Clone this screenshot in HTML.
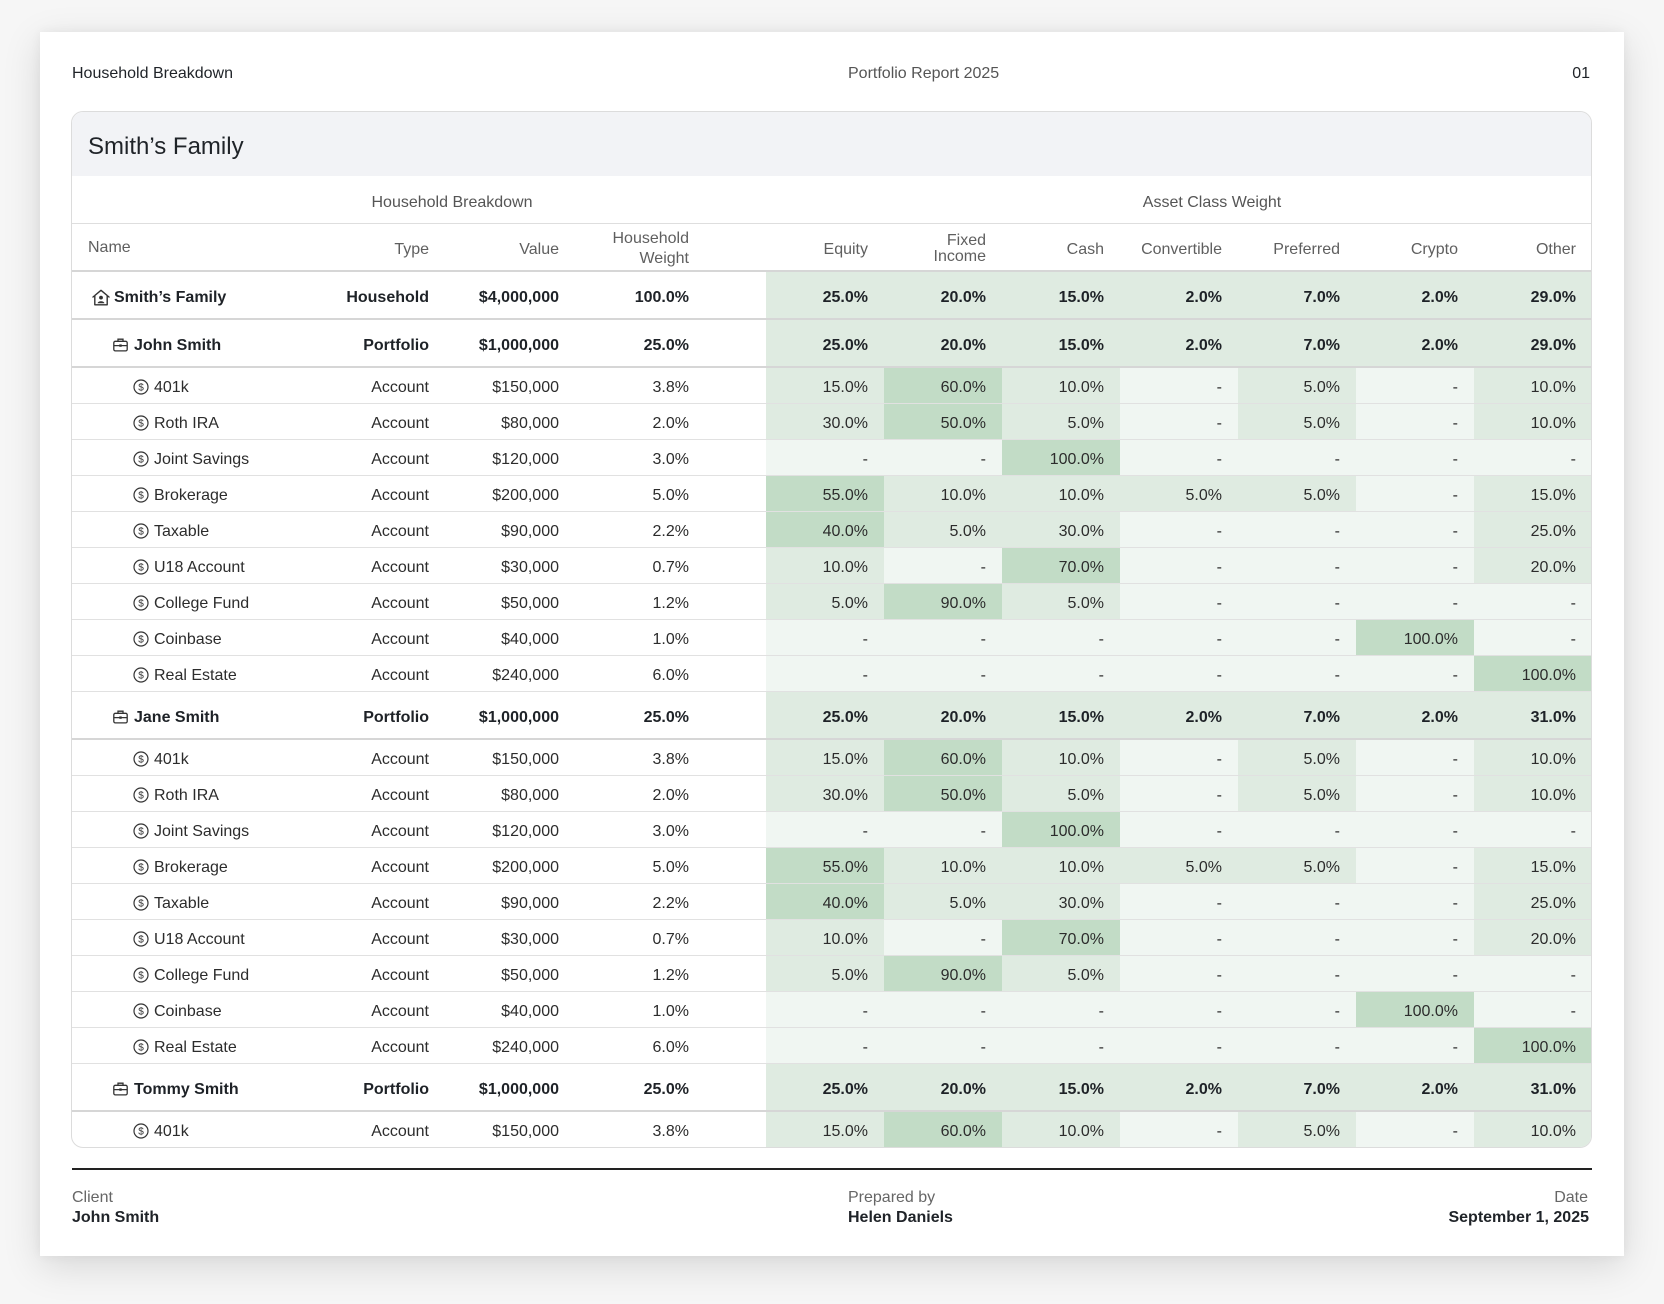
<!DOCTYPE html>
<html><head><meta charset="utf-8">
<style>
*{margin:0;padding:0;box-sizing:border-box}
html,body{width:1664px;height:1304px;overflow:hidden}
body{background:#f6f6f6;font-family:"Liberation Sans",Arial,sans-serif;color:#222;position:relative}
.page{position:absolute;left:40px;top:32px;width:1584px;height:1224px;background:#fff;box-shadow:0 10px 36px rgba(0,0,0,0.13),0 0 10px rgba(0,0,0,0.05)}
.abs{position:absolute;white-space:nowrap;font-size:16px}
.tbl{position:absolute;left:71px;top:111px;width:1521px;height:1037px;border:1px solid #dcdcdc;border-radius:12px;overflow:hidden;background:#fff}
.band{height:64px;background:#f2f3f6;position:relative}
.band .t{position:absolute;left:16px;top:3px;line-height:64px;font-size:24px;color:#1f2328}
.grp{height:48px;border-bottom:1px solid #dedede;position:relative;color:#555;font-size:16px}
.grp span{position:absolute;top:3px;line-height:47px;transform:translateX(-50%);white-space:nowrap}
.hdr{height:48px;border-bottom:2px solid #d6d6d6;position:relative;color:#5f5f5f;font-size:16px}
.hdr .c{line-height:46px;top:3px}
.row{position:relative;font-size:16px}
.acct{height:36px;border-bottom:1px solid #e1e1e1;color:#2c2c2c}
.acct.last{border-bottom:none;height:35px}
.sum{height:48px;border-bottom:2px solid #d6d6d6;color:#1e2227;font-weight:bold}
.c{position:absolute;top:0;height:100%;text-align:right;white-space:nowrap}
.acct .c{line-height:39px;height:35px}
.acct .nm{line-height:35px;height:35px;top:2px}
.sum .c{line-height:51px;height:46px}
.sum .nm{line-height:48px;height:48px;top:2px}
.ty{left:260px;width:97px}
.va{left:380px;width:107px}
.hw{left:510px;width:107px}
.g{width:118px;padding-right:16px}
.e1{left:694px}.e2{left:812px}.e3{left:930px}.e4{left:1048px}.e5{left:1166px}.e6{left:1284px}.e7{left:1402px}
.p{background:#f0f6f2}.l{background:#dfebe1}.d{background:#c2dcc6}
.nm{position:absolute;top:0;white-space:nowrap;display:flex;align-items:center}
.nm svg{margin-right:4px;flex:none;position:relative;top:-1px}
.n0{left:20px}.n1{left:41px}.n2{left:61px}
.n1 svg{margin-right:6px}
.n2 svg{margin-right:5px}
</style></head><body>
<div class="page"></div>

<div class="abs" style="left:72px;top:64px;line-height:20px;color:#1f2328">Household Breakdown</div>
<div class="abs" style="left:848px;top:64px;line-height:20px;color:#555">Portfolio Report 2025</div>
<div class="abs" style="right:74px;top:64px;line-height:20px;color:#1f2328">01</div>

<div class="tbl">
  <div class="band"><div class="t">Smith’s Family</div></div>
  <div class="grp"><span style="left:380px">Household Breakdown</span><span style="left:1140px">Asset Class Weight</span></div>
  <div class="hdr">
    <div class="c" style="left:16px;text-align:left;top:1px">Name</div>
    <div class="c ty">Type</div>
    <div class="c va">Value</div>
    <div class="c hw" style="line-height:20px;top:5px;height:auto">Household<br>Weight</div>
    <div class="c g e1">Equity</div>
    <div class="c g e2" style="line-height:16px;top:9px;height:auto">Fixed<br>Income</div>
    <div class="c g e3">Cash</div>
    <div class="c g e4">Convertible</div>
    <div class="c g e5">Preferred</div>
    <div class="c g e6">Crypto</div>
    <div class="c g e7">Other</div>
  </div>

  <!-- Smith's Family -->
  <div class="row sum">
    <div class="nm n0"><svg width="18" height="17" viewBox="0 0 18 17"><path d="M1 8 L9 1.3 L17 8 M2.8 6.6 V15.8 H15.2 V6.6" fill="none" stroke="#333" stroke-width="1.4" stroke-linejoin="round" stroke-linecap="round"/><circle cx="9" cy="8.6" r="1.9" fill="#333"/><path d="M5.6 14.2 C6 11.6 12 11.6 12.4 14.2 Z" fill="#333"/></svg>Smith’s Family</div>
    <div class="c ty">Household</div><div class="c va">$4,000,000</div><div class="c hw">100.0%</div>
    <div class="c g e1 l">25.0%</div><div class="c g e2 l">20.0%</div><div class="c g e3 l">15.0%</div><div class="c g e4 l">2.0%</div><div class="c g e5 l">7.0%</div><div class="c g e6 l">2.0%</div><div class="c g e7 l">29.0%</div>
  </div>

  <!-- John Smith -->
  <div class="row sum">
    <div class="nm n1"><svg width="15" height="14" viewBox="0 0 15 14"><rect x="0.8" y="3.3" width="13.4" height="9.6" rx="1.5" fill="none" stroke="#333" stroke-width="1.3"/><path d="M5 3.3 V1.2 H10 V3.3 M0.8 7.6 H14.2" fill="none" stroke="#333" stroke-width="1.3"/><rect x="6.3" y="6.4" width="2.4" height="2.4" fill="#333"/></svg>John Smith</div>
    <div class="c ty">Portfolio</div><div class="c va">$1,000,000</div><div class="c hw">25.0%</div>
    <div class="c g e1 l">25.0%</div><div class="c g e2 l">20.0%</div><div class="c g e3 l">15.0%</div><div class="c g e4 l">2.0%</div><div class="c g e5 l">7.0%</div><div class="c g e6 l">2.0%</div><div class="c g e7 l">29.0%</div>
  </div>

  <div class="row acct"><div class="nm n2"><svg width="16" height="16" viewBox="0 0 16 16"><circle cx="8" cy="8" r="7" fill="none" stroke="#333" stroke-width="1.2"/><text x="8" y="11.6" font-size="10" text-anchor="middle" fill="#333" font-family="Liberation Sans, sans-serif">$</text></svg>401k</div>
    <div class="c ty">Account</div><div class="c va">$150,000</div><div class="c hw">3.8%</div>
    <div class="c g e1 l">15.0%</div><div class="c g e2 d">60.0%</div><div class="c g e3 l">10.0%</div><div class="c g e4 p">-</div><div class="c g e5 l">5.0%</div><div class="c g e6 p">-</div><div class="c g e7 l">10.0%</div></div>
  <div class="row acct"><div class="nm n2"><svg width="16" height="16" viewBox="0 0 16 16"><circle cx="8" cy="8" r="7" fill="none" stroke="#333" stroke-width="1.2"/><text x="8" y="11.6" font-size="10" text-anchor="middle" fill="#333" font-family="Liberation Sans, sans-serif">$</text></svg>Roth IRA</div>
    <div class="c ty">Account</div><div class="c va">$80,000</div><div class="c hw">2.0%</div>
    <div class="c g e1 l">30.0%</div><div class="c g e2 d">50.0%</div><div class="c g e3 l">5.0%</div><div class="c g e4 p">-</div><div class="c g e5 l">5.0%</div><div class="c g e6 p">-</div><div class="c g e7 l">10.0%</div></div>
  <div class="row acct"><div class="nm n2"><svg width="16" height="16" viewBox="0 0 16 16"><circle cx="8" cy="8" r="7" fill="none" stroke="#333" stroke-width="1.2"/><text x="8" y="11.6" font-size="10" text-anchor="middle" fill="#333" font-family="Liberation Sans, sans-serif">$</text></svg>Joint Savings</div>
    <div class="c ty">Account</div><div class="c va">$120,000</div><div class="c hw">3.0%</div>
    <div class="c g e1 p">-</div><div class="c g e2 p">-</div><div class="c g e3 d">100.0%</div><div class="c g e4 p">-</div><div class="c g e5 p">-</div><div class="c g e6 p">-</div><div class="c g e7 p">-</div></div>
  <div class="row acct"><div class="nm n2"><svg width="16" height="16" viewBox="0 0 16 16"><circle cx="8" cy="8" r="7" fill="none" stroke="#333" stroke-width="1.2"/><text x="8" y="11.6" font-size="10" text-anchor="middle" fill="#333" font-family="Liberation Sans, sans-serif">$</text></svg>Brokerage</div>
    <div class="c ty">Account</div><div class="c va">$200,000</div><div class="c hw">5.0%</div>
    <div class="c g e1 d">55.0%</div><div class="c g e2 l">10.0%</div><div class="c g e3 l">10.0%</div><div class="c g e4 l">5.0%</div><div class="c g e5 l">5.0%</div><div class="c g e6 p">-</div><div class="c g e7 l">15.0%</div></div>
  <div class="row acct"><div class="nm n2"><svg width="16" height="16" viewBox="0 0 16 16"><circle cx="8" cy="8" r="7" fill="none" stroke="#333" stroke-width="1.2"/><text x="8" y="11.6" font-size="10" text-anchor="middle" fill="#333" font-family="Liberation Sans, sans-serif">$</text></svg>Taxable</div>
    <div class="c ty">Account</div><div class="c va">$90,000</div><div class="c hw">2.2%</div>
    <div class="c g e1 d">40.0%</div><div class="c g e2 l">5.0%</div><div class="c g e3 l">30.0%</div><div class="c g e4 p">-</div><div class="c g e5 p">-</div><div class="c g e6 p">-</div><div class="c g e7 l">25.0%</div></div>
  <div class="row acct"><div class="nm n2"><svg width="16" height="16" viewBox="0 0 16 16"><circle cx="8" cy="8" r="7" fill="none" stroke="#333" stroke-width="1.2"/><text x="8" y="11.6" font-size="10" text-anchor="middle" fill="#333" font-family="Liberation Sans, sans-serif">$</text></svg>U18 Account</div>
    <div class="c ty">Account</div><div class="c va">$30,000</div><div class="c hw">0.7%</div>
    <div class="c g e1 l">10.0%</div><div class="c g e2 p">-</div><div class="c g e3 d">70.0%</div><div class="c g e4 p">-</div><div class="c g e5 p">-</div><div class="c g e6 p">-</div><div class="c g e7 l">20.0%</div></div>
  <div class="row acct"><div class="nm n2"><svg width="16" height="16" viewBox="0 0 16 16"><circle cx="8" cy="8" r="7" fill="none" stroke="#333" stroke-width="1.2"/><text x="8" y="11.6" font-size="10" text-anchor="middle" fill="#333" font-family="Liberation Sans, sans-serif">$</text></svg>College Fund</div>
    <div class="c ty">Account</div><div class="c va">$50,000</div><div class="c hw">1.2%</div>
    <div class="c g e1 l">5.0%</div><div class="c g e2 d">90.0%</div><div class="c g e3 l">5.0%</div><div class="c g e4 p">-</div><div class="c g e5 p">-</div><div class="c g e6 p">-</div><div class="c g e7 p">-</div></div>
  <div class="row acct"><div class="nm n2"><svg width="16" height="16" viewBox="0 0 16 16"><circle cx="8" cy="8" r="7" fill="none" stroke="#333" stroke-width="1.2"/><text x="8" y="11.6" font-size="10" text-anchor="middle" fill="#333" font-family="Liberation Sans, sans-serif">$</text></svg>Coinbase</div>
    <div class="c ty">Account</div><div class="c va">$40,000</div><div class="c hw">1.0%</div>
    <div class="c g e1 p">-</div><div class="c g e2 p">-</div><div class="c g e3 p">-</div><div class="c g e4 p">-</div><div class="c g e5 p">-</div><div class="c g e6 d">100.0%</div><div class="c g e7 p">-</div></div>
  <div class="row acct"><div class="nm n2"><svg width="16" height="16" viewBox="0 0 16 16"><circle cx="8" cy="8" r="7" fill="none" stroke="#333" stroke-width="1.2"/><text x="8" y="11.6" font-size="10" text-anchor="middle" fill="#333" font-family="Liberation Sans, sans-serif">$</text></svg>Real Estate</div>
    <div class="c ty">Account</div><div class="c va">$240,000</div><div class="c hw">6.0%</div>
    <div class="c g e1 p">-</div><div class="c g e2 p">-</div><div class="c g e3 p">-</div><div class="c g e4 p">-</div><div class="c g e5 p">-</div><div class="c g e6 p">-</div><div class="c g e7 d">100.0%</div></div>

  <!-- Jane Smith -->
  <div class="row sum">
    <div class="nm n1"><svg width="15" height="14" viewBox="0 0 15 14"><rect x="0.8" y="3.3" width="13.4" height="9.6" rx="1.5" fill="none" stroke="#333" stroke-width="1.3"/><path d="M5 3.3 V1.2 H10 V3.3 M0.8 7.6 H14.2" fill="none" stroke="#333" stroke-width="1.3"/><rect x="6.3" y="6.4" width="2.4" height="2.4" fill="#333"/></svg>Jane Smith</div>
    <div class="c ty">Portfolio</div><div class="c va">$1,000,000</div><div class="c hw">25.0%</div>
    <div class="c g e1 l">25.0%</div><div class="c g e2 l">20.0%</div><div class="c g e3 l">15.0%</div><div class="c g e4 l">2.0%</div><div class="c g e5 l">7.0%</div><div class="c g e6 l">2.0%</div><div class="c g e7 l">31.0%</div>
  </div>

  <div class="row acct"><div class="nm n2"><svg width="16" height="16" viewBox="0 0 16 16"><circle cx="8" cy="8" r="7" fill="none" stroke="#333" stroke-width="1.2"/><text x="8" y="11.6" font-size="10" text-anchor="middle" fill="#333" font-family="Liberation Sans, sans-serif">$</text></svg>401k</div>
    <div class="c ty">Account</div><div class="c va">$150,000</div><div class="c hw">3.8%</div>
    <div class="c g e1 l">15.0%</div><div class="c g e2 d">60.0%</div><div class="c g e3 l">10.0%</div><div class="c g e4 p">-</div><div class="c g e5 l">5.0%</div><div class="c g e6 p">-</div><div class="c g e7 l">10.0%</div></div>
  <div class="row acct"><div class="nm n2"><svg width="16" height="16" viewBox="0 0 16 16"><circle cx="8" cy="8" r="7" fill="none" stroke="#333" stroke-width="1.2"/><text x="8" y="11.6" font-size="10" text-anchor="middle" fill="#333" font-family="Liberation Sans, sans-serif">$</text></svg>Roth IRA</div>
    <div class="c ty">Account</div><div class="c va">$80,000</div><div class="c hw">2.0%</div>
    <div class="c g e1 l">30.0%</div><div class="c g e2 d">50.0%</div><div class="c g e3 l">5.0%</div><div class="c g e4 p">-</div><div class="c g e5 l">5.0%</div><div class="c g e6 p">-</div><div class="c g e7 l">10.0%</div></div>
  <div class="row acct"><div class="nm n2"><svg width="16" height="16" viewBox="0 0 16 16"><circle cx="8" cy="8" r="7" fill="none" stroke="#333" stroke-width="1.2"/><text x="8" y="11.6" font-size="10" text-anchor="middle" fill="#333" font-family="Liberation Sans, sans-serif">$</text></svg>Joint Savings</div>
    <div class="c ty">Account</div><div class="c va">$120,000</div><div class="c hw">3.0%</div>
    <div class="c g e1 p">-</div><div class="c g e2 p">-</div><div class="c g e3 d">100.0%</div><div class="c g e4 p">-</div><div class="c g e5 p">-</div><div class="c g e6 p">-</div><div class="c g e7 p">-</div></div>
  <div class="row acct"><div class="nm n2"><svg width="16" height="16" viewBox="0 0 16 16"><circle cx="8" cy="8" r="7" fill="none" stroke="#333" stroke-width="1.2"/><text x="8" y="11.6" font-size="10" text-anchor="middle" fill="#333" font-family="Liberation Sans, sans-serif">$</text></svg>Brokerage</div>
    <div class="c ty">Account</div><div class="c va">$200,000</div><div class="c hw">5.0%</div>
    <div class="c g e1 d">55.0%</div><div class="c g e2 l">10.0%</div><div class="c g e3 l">10.0%</div><div class="c g e4 l">5.0%</div><div class="c g e5 l">5.0%</div><div class="c g e6 p">-</div><div class="c g e7 l">15.0%</div></div>
  <div class="row acct"><div class="nm n2"><svg width="16" height="16" viewBox="0 0 16 16"><circle cx="8" cy="8" r="7" fill="none" stroke="#333" stroke-width="1.2"/><text x="8" y="11.6" font-size="10" text-anchor="middle" fill="#333" font-family="Liberation Sans, sans-serif">$</text></svg>Taxable</div>
    <div class="c ty">Account</div><div class="c va">$90,000</div><div class="c hw">2.2%</div>
    <div class="c g e1 d">40.0%</div><div class="c g e2 l">5.0%</div><div class="c g e3 l">30.0%</div><div class="c g e4 p">-</div><div class="c g e5 p">-</div><div class="c g e6 p">-</div><div class="c g e7 l">25.0%</div></div>
  <div class="row acct"><div class="nm n2"><svg width="16" height="16" viewBox="0 0 16 16"><circle cx="8" cy="8" r="7" fill="none" stroke="#333" stroke-width="1.2"/><text x="8" y="11.6" font-size="10" text-anchor="middle" fill="#333" font-family="Liberation Sans, sans-serif">$</text></svg>U18 Account</div>
    <div class="c ty">Account</div><div class="c va">$30,000</div><div class="c hw">0.7%</div>
    <div class="c g e1 l">10.0%</div><div class="c g e2 p">-</div><div class="c g e3 d">70.0%</div><div class="c g e4 p">-</div><div class="c g e5 p">-</div><div class="c g e6 p">-</div><div class="c g e7 l">20.0%</div></div>
  <div class="row acct"><div class="nm n2"><svg width="16" height="16" viewBox="0 0 16 16"><circle cx="8" cy="8" r="7" fill="none" stroke="#333" stroke-width="1.2"/><text x="8" y="11.6" font-size="10" text-anchor="middle" fill="#333" font-family="Liberation Sans, sans-serif">$</text></svg>College Fund</div>
    <div class="c ty">Account</div><div class="c va">$50,000</div><div class="c hw">1.2%</div>
    <div class="c g e1 l">5.0%</div><div class="c g e2 d">90.0%</div><div class="c g e3 l">5.0%</div><div class="c g e4 p">-</div><div class="c g e5 p">-</div><div class="c g e6 p">-</div><div class="c g e7 p">-</div></div>
  <div class="row acct"><div class="nm n2"><svg width="16" height="16" viewBox="0 0 16 16"><circle cx="8" cy="8" r="7" fill="none" stroke="#333" stroke-width="1.2"/><text x="8" y="11.6" font-size="10" text-anchor="middle" fill="#333" font-family="Liberation Sans, sans-serif">$</text></svg>Coinbase</div>
    <div class="c ty">Account</div><div class="c va">$40,000</div><div class="c hw">1.0%</div>
    <div class="c g e1 p">-</div><div class="c g e2 p">-</div><div class="c g e3 p">-</div><div class="c g e4 p">-</div><div class="c g e5 p">-</div><div class="c g e6 d">100.0%</div><div class="c g e7 p">-</div></div>
  <div class="row acct"><div class="nm n2"><svg width="16" height="16" viewBox="0 0 16 16"><circle cx="8" cy="8" r="7" fill="none" stroke="#333" stroke-width="1.2"/><text x="8" y="11.6" font-size="10" text-anchor="middle" fill="#333" font-family="Liberation Sans, sans-serif">$</text></svg>Real Estate</div>
    <div class="c ty">Account</div><div class="c va">$240,000</div><div class="c hw">6.0%</div>
    <div class="c g e1 p">-</div><div class="c g e2 p">-</div><div class="c g e3 p">-</div><div class="c g e4 p">-</div><div class="c g e5 p">-</div><div class="c g e6 p">-</div><div class="c g e7 d">100.0%</div></div>

  <!-- Tommy Smith -->
  <div class="row sum">
    <div class="nm n1"><svg width="15" height="14" viewBox="0 0 15 14"><rect x="0.8" y="3.3" width="13.4" height="9.6" rx="1.5" fill="none" stroke="#333" stroke-width="1.3"/><path d="M5 3.3 V1.2 H10 V3.3 M0.8 7.6 H14.2" fill="none" stroke="#333" stroke-width="1.3"/><rect x="6.3" y="6.4" width="2.4" height="2.4" fill="#333"/></svg>Tommy Smith</div>
    <div class="c ty">Portfolio</div><div class="c va">$1,000,000</div><div class="c hw">25.0%</div>
    <div class="c g e1 l">25.0%</div><div class="c g e2 l">20.0%</div><div class="c g e3 l">15.0%</div><div class="c g e4 l">2.0%</div><div class="c g e5 l">7.0%</div><div class="c g e6 l">2.0%</div><div class="c g e7 l">31.0%</div>
  </div>

  <div class="row acct last"><div class="nm n2"><svg width="16" height="16" viewBox="0 0 16 16"><circle cx="8" cy="8" r="7" fill="none" stroke="#333" stroke-width="1.2"/><text x="8" y="11.6" font-size="10" text-anchor="middle" fill="#333" font-family="Liberation Sans, sans-serif">$</text></svg>401k</div>
    <div class="c ty">Account</div><div class="c va">$150,000</div><div class="c hw">3.8%</div>
    <div class="c g e1 l">15.0%</div><div class="c g e2 d">60.0%</div><div class="c g e3 l">10.0%</div><div class="c g e4 p">-</div><div class="c g e5 l">5.0%</div><div class="c g e6 p">-</div><div class="c g e7 l">10.0%</div></div>
</div>

<div style="position:absolute;left:72px;top:1168px;width:1520px;height:1.5px;background:#222"></div>

<div class="abs" style="left:72px;top:1188px;line-height:20px;color:#666">Client</div>
<div class="abs" style="left:72px;top:1208px;line-height:20px;color:#1f2328;font-weight:bold">John Smith</div>
<div class="abs" style="left:848px;top:1188px;line-height:20px;color:#666">Prepared by</div>
<div class="abs" style="left:848px;top:1208px;line-height:20px;color:#1f2328;font-weight:bold">Helen Daniels</div>
<div class="abs" style="right:76px;top:1188px;line-height:20px;color:#666">Date</div>
<div class="abs" style="right:75px;top:1208px;line-height:20px;color:#1f2328;font-weight:bold">September 1, 2025</div>
</body></html>
